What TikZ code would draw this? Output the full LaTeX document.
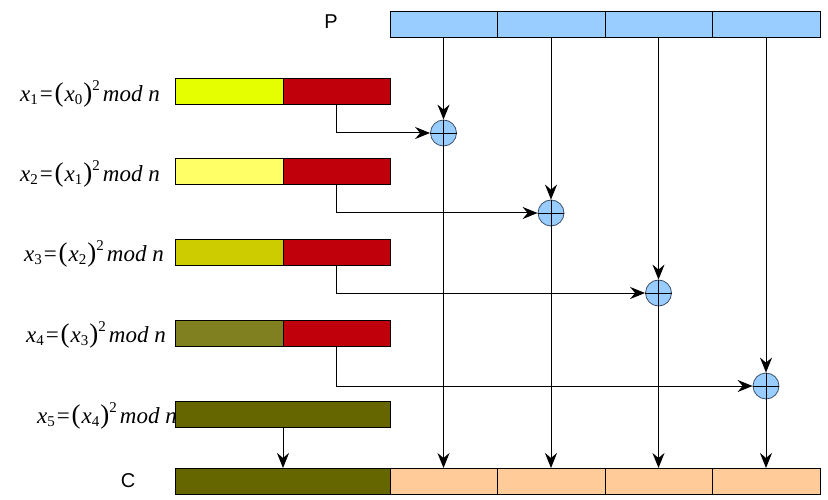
\documentclass[tikz,border=0pt]{standalone}
\usepackage{fontspec}
\setmainfont{Liberation Serif}
\newfontfamily\arialf{Liberation Sans}
\usetikzlibrary{arrows.meta}
\definecolor{yA}{RGB}{230,255,0}
\definecolor{yB}{RGB}{255,255,102}
\definecolor{yC}{RGB}{204,204,0}
\definecolor{yD}{RGB}{128,128,32}
\definecolor{yE}{RGB}{102,102,0}
\definecolor{redc}{RGB}{192,0,11}
\definecolor{bluec}{RGB}{153,204,255}
\definecolor{peach}{RGB}{255,204,153}
\definecolor{circb}{RGB}{60,80,100}
\newcommand\subsz{\fontsize{15}{15}\selectfont}
\newcommand\parsz{\fontsize{27}{27}\selectfont}
\newcommand\xlab[2]{\fontsize{23}{23}\selectfont\textit{x}\raisebox{-0.3ex}{\subsz #1}\kern2pt=\kern2pt{\parsz\raisebox{-0.05ex}{(}}\kern1pt\textit{x}\raisebox{-0.3ex}{\subsz #2}\kern1pt{\parsz\raisebox{-0.05ex}{)}}\raisebox{1.0ex}{\subsz 2}\kern3pt\textit{mod n}}
\begin{document}
\begin{tikzpicture}[x=1pt,y=-1pt,
  cell/.style={draw=black,line width=1pt},
  arr/.style={-{Stealth[length=15pt,width=12pt,inset=5pt]},line width=1pt},
  xr/.style={circle,draw=circb,fill=bluec,line width=0.8pt,minimum size=26pt,inner sep=0pt},
  lab/.style={anchor=east,inner sep=0pt}]
\useasboundingbox (0,0) rectangle (828,500);
% P bar
\foreach \a/\b in {390/497,497/605,605/712,712/820}
  \draw[cell,fill=bluec] (\a,12) rectangle (\b,38);
\foreach \i/\c in {1/443.5,2/551,3/658.5,4/766}
  \coordinate (P\i) at (\c,38);
\node[font=\arialf\fontsize{20}{20}\selectfont] (Plab) at (331,22) {P};
% left blocks
\foreach \r/\y/\col in {1/79/yA,2/159/yB,3/239/yC,4/320/yD}{
  \draw[cell,fill=\col] (175,\y) rectangle (283,\y+26);
  \draw[cell,fill=redc] (283,\y) rectangle (390,\y+26);
  \coordinate (R\r) at (336,\y+26);
}
\draw[cell,fill=yE] (175,401) rectangle (390,427);
\coordinate (B5) at (283,427);
% labels
\node[lab] (L1) at (160,94) {\xlab{1}{0}};
\node[lab] (L2) at (160,174) {\xlab{2}{1}};
\node[lab] (L3) at (164,254) {\xlab{3}{2}};
\node[lab] (L4) at (166,335) {\xlab{4}{3}};
\node[lab] (L5) at (177,416) {\xlab{5}{4}};
% C bar
\draw[cell,fill=yE] (175,468) rectangle (390,494);
\foreach \a/\b in {390/497,497/605,605/712,712/820}
  \draw[cell,fill=peach] (\a,468) rectangle (\b,494);
\foreach \i/\c in {1/443.5,2/551,3/658.5,4/766}
  \coordinate (C\i) at (\c,468);
\coordinate (C0) at (283,468);
\node[font=\arialf\fontsize{20}{20}\selectfont] (Clab) at (128,481) {C};
% xor circles
\node[xr] (X1) at (443.5,133) {};
\node[xr] (X2) at (551,213) {};
\node[xr] (X3) at (658.5,293) {};
\node[xr] (X4) at (766,386) {};
\foreach \i in {1,...,4}{
  \draw[line width=0.8pt] (X\i.north) -- (X\i.south) (X\i.west) -- (X\i.east);
}
% connectors
\foreach \i in {1,...,4}{
  \draw[arr] (R\i) |- (X\i.west);
  \draw[arr] (P\i) -- (X\i.north);
  \draw[arr] (X\i.south) -- (C\i);
}
\draw[arr] (B5) -- (C0);
\end{tikzpicture}
\end{document}
